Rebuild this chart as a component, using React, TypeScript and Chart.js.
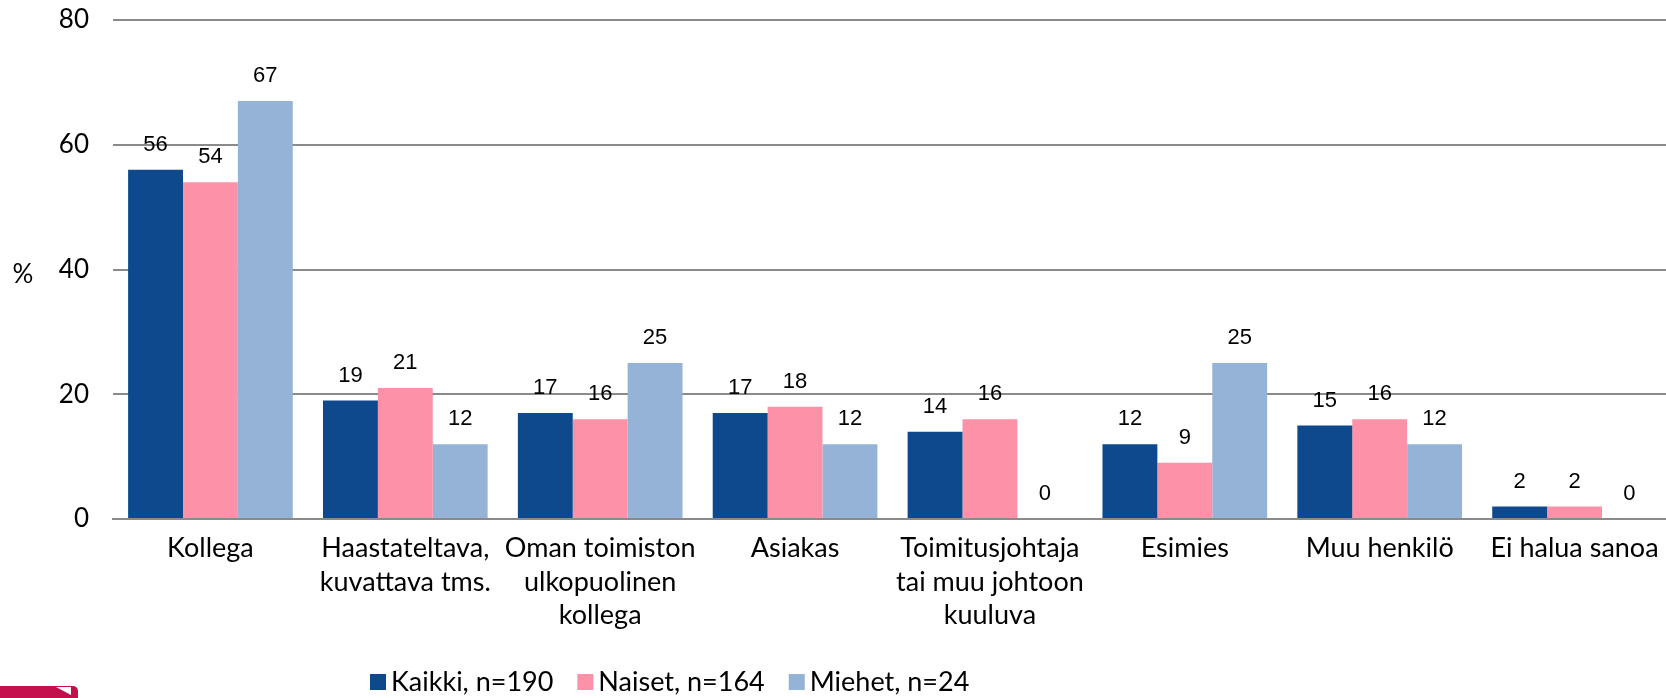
import React, { useEffect, useRef } from "react";
import { Chart, registerables } from "chart.js";
Chart.register(...registerables);

const categories: string[][] = [
  ["Kollega"],
  ["Haastateltava,", "kuvattava tms."],
  ["Oman toimiston", "ulkopuolinen", "kollega"],
  ["Asiakas"],
  ["Toimitusjohtaja", "tai muu johtoon", "kuuluva"],
  ["Esimies"],
  ["Muu henkilö"],
  ["Ei halua sanoa"],
];
const kaikki = [56, 19, 17, 17, 14, 12, 15, 2];
const naiset = [54, 21, 16, 18, 16, 9, 16, 2];
const miehet = [67, 12, 25, 12, 0, 25, 12, 0];
const seriesLabels = ["Kaikki, n=190", "Naiset, n=164", "Miehet, n=24"];
const seriesColors = ["#0d498c", "#fc91a7", "#95b3d7"];
const yAxisTitle = "%";

const MAIN_FONT = "Lato, 'Open Sans', sans-serif";
const VALUE_FONT = "'Liberation Sans', Arial, sans-serif";

const valueLabels = {
  id: "valueLabels",
  afterDatasetsDraw(chart: any) {
    const ctx = chart.ctx;
    ctx.save();
    ctx.font = `22px ${VALUE_FONT}`;
    ctx.fillStyle = "#000";
    ctx.textAlign = "center";
    ctx.textBaseline = "middle";
    chart.data.datasets.forEach((ds: any, i: number) => {
      const meta = chart.getDatasetMeta(i);
      meta.data.forEach((el: any, j: number) => {
        ctx.fillText(String(ds.data[j]), el.x, el.y - 25);
      });
    });
    ctx.restore();
  },
};

const customLegend = {
  id: "customLegend",
  afterDraw(chart: any) {
    const ctx = chart.ctx;
    ctx.save();
    ctx.font = `27px ${MAIN_FONT}`;
    ctx.textBaseline = "middle";
    ctx.textAlign = "left";
    let x = 370;
    const y = 682;
    chart.data.datasets.forEach((ds: any) => {
      ctx.fillStyle = ds.backgroundColor;
      ctx.fillRect(x, y - 8, 16, 16);
      ctx.fillStyle = "#000";
      ctx.fillText(ds.label, x + 21, y);
      x += 21 + ctx.measureText(ds.label).width + 24;
    });
    // y axis title
    ctx.font = `26px ${MAIN_FONT}`;
    ctx.textAlign = "center";
    ctx.fillText(yAxisTitle, 23, 275);
    ctx.restore();
  },
};

export default function App() {
  const ref = useRef<HTMLCanvasElement>(null);
  useEffect(() => {
    if (!ref.current) return;
    const chart = new Chart(ref.current, {
      type: "bar",
      data: {
        labels: categories,
        datasets: [
          { label: seriesLabels[0], data: kaikki, backgroundColor: seriesColors[0] },
          { label: seriesLabels[1], data: naiset, backgroundColor: seriesColors[1] },
          { label: seriesLabels[2], data: miehet, backgroundColor: seriesColors[2] },
        ],
      },
      options: {
        responsive: false,
        animation: false,
        devicePixelRatio: 1,
        layout: { padding: { top: 20, right: 8, bottom: 0, left: 0 } },
        datasets: { bar: { categoryPercentage: 0.845, barPercentage: 1 } },
        plugins: { legend: { display: false }, tooltip: { enabled: false } },
        scales: {
          x: {
            grid: { display: false, drawTicks: false },
            border: { display: true, color: "#8a8a8a", width: 2 },
            ticks: {
              color: "#000",
              font: { family: MAIN_FONT, size: 27, lineHeight: 1.24 },
              padding: 13,
              maxRotation: 0,
              autoSkip: false,
            },
            afterFit(scale: any) {
              scale.height = 179;
            },
          },
          y: {
            min: 0,
            max: 80,
            grid: { color: "#8a8a8a", lineWidth: 2, drawTicks: false },
            border: { display: false },
            ticks: {
              stepSize: 20,
              color: "#000",
              font: { family: MAIN_FONT, size: 26 },
              padding: 24,
            },
            afterFit(scale: any) {
              scale.width = 113;
              scale.paddingTop = 0;
              scale.paddingBottom = 0;
            },
          },
        },
      },
      plugins: [valueLabels, customLegend],
    });
    return () => chart.destroy();
  }, []);

  return (
    <div
      style={{
        position: "fixed",
        left: 0,
        top: 0,
        width: 1666,
        height: 698,
        overflow: "hidden",
        background: "#fff",
      }}
    >
      <canvas ref={ref} width={1680} height={698} style={{ display: "block" }} />
      <div
        style={{
          position: "absolute",
          left: 0,
          top: 686,
          width: 78,
          height: 20,
          background: "#c3104c",
          borderTopRightRadius: 5,
        }}
      >
        <div
          style={{
            position: "absolute",
            left: 56,
            top: 1,
            width: 0,
            height: 0,
            borderTop: "8px solid #fff",
            borderLeft: "15px solid transparent",
          }}
        />
      </div>
    </div>
  );
}
